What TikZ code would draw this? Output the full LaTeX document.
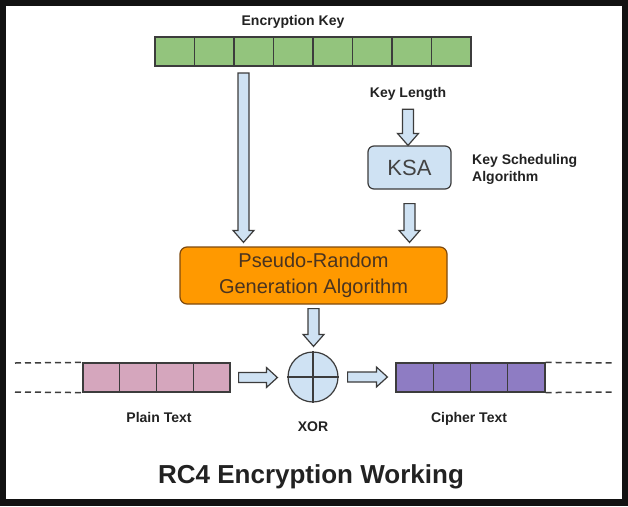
\documentclass[tikz,border=0pt]{standalone}
\usepackage{fontspec}
\setmainfont{Liberation Sans}
\usetikzlibrary{calc}

\definecolor{keygreen}{HTML}{93C47D}
\definecolor{plainpink}{HTML}{D5A6BD}
\definecolor{cipherpurple}{HTML}{8E7CC3}
\definecolor{lightblue}{HTML}{CFE2F3}
\definecolor{prgaorange}{HTML}{FF9900}
\definecolor{prgaline}{HTML}{7F4A0E}
\definecolor{prgatext}{HTML}{4A3420}
\definecolor{darkline}{HTML}{3C3C3C}
\definecolor{labeltext}{HTML}{222222}

\tikzset{
  cell/.style={draw=darkline, line width=1.2pt, minimum height=29pt, inner sep=0pt},
  boldtext/.style={font=\fontsize{14}{17}\selectfont\bfseries, text=labeltext, anchor=base, inner sep=0pt},
  fatarrow/.style={draw=darkline, fill=lightblue, line width=1.2pt, line join=miter},
  dashline/.style={draw=darkline, line width=1.5pt, dash pattern=on 6pt off 4pt},
}

% hollow block arrows, from the first point to the second
\newcommand{\fatdown}[2]{%
  \draw[fatarrow] let \p1=#1, \p2=#2 in
    (\x1-5.5pt,\y1) -- (\x1+5.5pt,\y1) -- (\x1+5.5pt,\y2+12pt) -- (\x1+10.5pt,\y2+12pt)
    -- (\x1,\y2) -- (\x1-10.5pt,\y2+12pt) -- (\x1-5.5pt,\y2+12pt) -- cycle;}
\newcommand{\fatright}[2]{%
  \draw[fatarrow] let \p1=#1, \p2=#2 in
    (\x1,\y1-5pt) -- (\x1,\y1+5pt) -- (\x2-11pt,\y1+5pt) -- (\x2-11pt,\y1+10pt)
    -- (\x2,\y1) -- (\x2-11pt,\y1-10pt) -- (\x2-11pt,\y1-5pt) -- cycle;}

\begin{document}
\begin{tikzpicture}[x=1pt,y=-1pt]
% frame
\fill[black!93] (0,0) rectangle (628,506);
\fill[white] (6,6) rectangle (622,499);
\useasboundingbox (0,0) rectangle (628,506);

% Encryption key
\node[boldtext] (keylabel) at (293,25) {Encryption Key};
\foreach \i in {1,...,8}
  \node[cell, fill=keygreen, minimum width=39.5pt] (k\i) at ({155+39.5*(\i-0.5)},51.5) {};
\coordinate (keyout) at (243.5,73);

% KSA
\node[boldtext] (keylen) at (408,97) {Key Length};
\node[draw=darkline, line width=1.2pt, fill=lightblue, rounded corners=6pt,
      minimum width=83pt, minimum height=43pt, text=labeltext!85,
      font=\fontsize{22}{26}\selectfont] (ksa) at (409.5,167.5) {KSA};
\node[boldtext, anchor=north west, align=left] (ksalabel) at (472,154.5)
  {Key Scheduling\\Algorithm};

% PRGA
\node[draw=prgaline, line width=1.2pt, fill=prgaorange, rounded corners=7pt,
      minimum width=267pt, minimum height=57pt, align=center, text=prgatext,
      font=\fontsize{20}{26}\selectfont] (prga) at (313.5,275.5)
  {Pseudo-Random\\Generation Algorithm};

% XOR
\node[circle, draw=darkline, line width=1.2pt, fill=lightblue, minimum size=50pt,
      inner sep=0pt] (xor) at (313,377) {};
\draw[darkline, line width=1.2pt] (xor.north) -- (xor.south);
\draw[darkline, line width=1.2pt] (xor.west) -- (xor.east);
\node[boldtext] (xorlabel) at (313,431) {XOR};

% Plain text and cipher text
\foreach \i in {1,...,4} {
  \node[cell, fill=plainpink, minimum width=36.75pt] (p\i) at ({83+36.75*(\i-0.5)},377.5) {};
  \node[cell, fill=cipherpurple, minimum width=37.25pt] (c\i) at ({396+37.25*(\i-0.5)},377.5) {};
}
\draw[dashline] (15,363) -- (p1.north west);
\draw[dashline] (15,392) -- (p1.south west);
\draw[dashline] (c4.north east) -- (613,363);
\draw[dashline] (c4.south east) -- (613,392);
\node[boldtext] (plainlabel) at (159,422) {Plain Text};
\node[boldtext] (cipherlabel) at (469,422) {Cipher Text};

% Arrows
\fatdown{(keyout)}{($(prga.north)+(0,-4)$)}
\fatdown{($(keylen.south)+(0,9)$)}{(ksa.north)}
\fatdown{($(ksa.south)+(0,14)$)}{($(prga.north)+(0,-4)$)}
\fatdown{($(prga.south)+(0,4)$)}{($(xor.north)+(0,-5)$)}
\fatright{($(p4.east)+(8,0)$)}{($(xor.west)+(-10,0)$)}
\fatright{($(xor.east)+(9,0)$)}{($(c1.west)+(-8,0)$)}

% Title
\node[font=\fontsize{26}{30}\selectfont\bfseries, text=labeltext, anchor=base,
      inner sep=0pt] (title) at (311,483) {RC4 Encryption Working};
\end{tikzpicture}
\end{document}
